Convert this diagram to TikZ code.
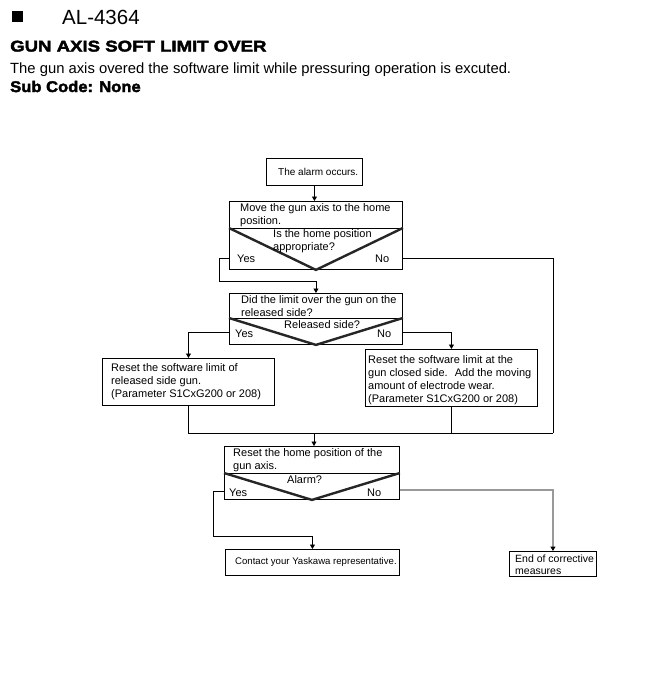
\documentclass[tikz,border=0pt]{standalone}
\usepackage{fontspec}
\setmainfont{Liberation Sans}
\newfontfamily\heavyA{Liberation Sans}[FakeStretch=1.2,BoldFeatures={FakeBold=2.6}]
\newfontfamily\heavyB{Liberation Sans}[FakeStretch=1.07,BoldFeatures={FakeBold=2.6}]
\usetikzlibrary{arrows.meta}
\begin{document}
\begin{tikzpicture}[x=1pt,y=-1pt,
  box/.style={draw, line width=0.9pt, inner sep=0pt, anchor=north west},
  txt/.style={inner sep=0pt, anchor=west, align=left, font=\fontsize{11pt}{13pt}\selectfont},
  lbl/.style={inner sep=0pt, anchor=base west, font=\fontsize{11pt}{13pt}\selectfont},
  vee/.style={line width=2.4pt, color=black!85},
  conn/.style={line width=0.8pt},
  arr/.style={conn, -{Triangle[length=4.5pt,width=5pt]}},
  grayconn/.style={line width=1.3pt, color=black!40, -{Triangle[length=4.5pt,width=5pt,color=black]}}
]
\useasboundingbox (0,0) rectangle (652,673);

% header
\fill (12,11) rectangle (22.5,21.8);
\node[inner sep=0pt, anchor=base west, font=\fontsize{20.5pt}{24pt}\selectfont] (code) at (62,24) {AL-4364};
\node[inner sep=0pt, anchor=base west, font=\heavyA\bfseries\fontsize{15.5pt}{18pt}\selectfont] (title) at (10,51.5) {GUN AXIS SOFT LIMIT OVER};
\node[inner sep=0pt, anchor=base west, font=\fontsize{14.8pt}{18pt}\selectfont] (desc) at (10,73) {The gun axis overed the software limit while pressuring operation is excuted.};
\node[inner sep=0pt, anchor=base west, font=\heavyB\bfseries\fontsize{15.5pt}{18pt}\selectfont] (sub) at (10,92) {Sub Code: None};

% boxes
\node[box, minimum width=96pt, minimum height=27pt] (alarm) at (266,158) {};
\node[box, minimum width=173pt, minimum height=68pt] (A) at (229,201) {};
\node[box, minimum width=173pt, minimum height=51pt] (B) at (229,293) {};
\node[box, minimum width=172pt, minimum height=47pt] (C) at (102,358) {};
\node[box, minimum width=172pt, minimum height=57pt] (D) at (365,349) {};
\node[box, minimum width=175pt, minimum height=53pt] (E) at (224,446) {};
\node[box, minimum width=174pt, minimum height=26pt] (F) at (225,549) {};
\node[box, minimum width=87pt, minimum height=25pt] (G) at (509,551) {};

% dividers and decision V's
\draw[conn] ([yshift=-27pt]A.north west) -- ([yshift=-27pt]A.north east);
\draw[vee] ([yshift=-27pt]A.north west) -- (A.south) -- ([yshift=-27pt]A.north east);
\draw[conn] ([yshift=-25pt]B.north west) -- ([yshift=-25pt]B.north east);
\draw[vee] ([yshift=-25pt]B.north west) -- (B.south) -- ([yshift=-25pt]B.north east);
\draw[conn] ([yshift=-27pt]E.north west) -- ([yshift=-27pt]E.north east);
\draw[vee] ([yshift=-27pt]E.north west) -- (E.south) -- ([yshift=-27pt]E.north east);

% texts
\node[txt, font=\fontsize{10pt}{12pt}\selectfont] (talarm) at (278,172) {The alarm occurs.};
\node[txt] (tA) at (240,215.5) {Move the gun axis to the home\\position.};
\node[txt] (qA) at (273,241) {Is the home position\\appropriate?};
\node[lbl] (yA) at (237,262) {Yes};
\node[lbl] (nA) at (375,262) {No};
\node[txt] (tB) at (241,306.5) {Did the limit over the gun on the\\released side?};
\node[txt] (qB) at (284,325) {Released side?};
\node[lbl] (yB) at (235,337) {Yes};
\node[lbl] (nB) at (377,337) {No};
\node[txt] (tC) at (111,381.5) {Reset the software limit of\\released side gun.\\(Parameter S1CxG200 or 208)};
\node[txt] (tD) at (368,380.5) {Reset the software limit at the\\gun closed side.~ Add the moving\\amount of electrode wear.\\(Parameter S1CxG200 or 208)};
\node[txt] (tE) at (233,460) {Reset the home position of the\\gun axis.};
\node[txt] (qE) at (287,480) {Alarm?};
\node[lbl] (yE) at (229,496) {Yes};
\node[lbl] (nE) at (367,496) {No};
\node[txt, font=\fontsize{9.6pt}{12pt}\selectfont] (tF) at (235,562.5) {Contact your Yaskawa representative.};
\node[txt, font=\fontsize{10.5pt}{12pt}\selectfont] (tG) at (515,565) {End of corrective\\measures};

% connectors
\coordinate (jA) at (219,281);
\coordinate (jR) at (553,433);
\coordinate (jM) at (314,433);
\coordinate (jE) at (213,536);

\draw[arr] (alarm.south) -- (alarm.south |- A.north);
\draw[arr] (A.west |- 0,258) -| (jA) -| (B.north);
\draw[conn] (A.east |- 0,258) -| (jR);
\draw[arr] (B.west |- 0,332) -| (C.north);
\draw[arr] (B.east |- 0,332) -| (D.north);
\draw[conn] (C.south) -- (C.south |- jR) -- (jR);
\draw[conn] (D.south) -- (D.south |- jR);
\draw[arr] (jM) -- (jM |- E.north);
\draw[arr] (E.west |- 0,491) -| (jE) -| (F.north);
\draw[grayconn] (E.east |- 0,490) -| (G.north);
\end{tikzpicture}
\end{document}
